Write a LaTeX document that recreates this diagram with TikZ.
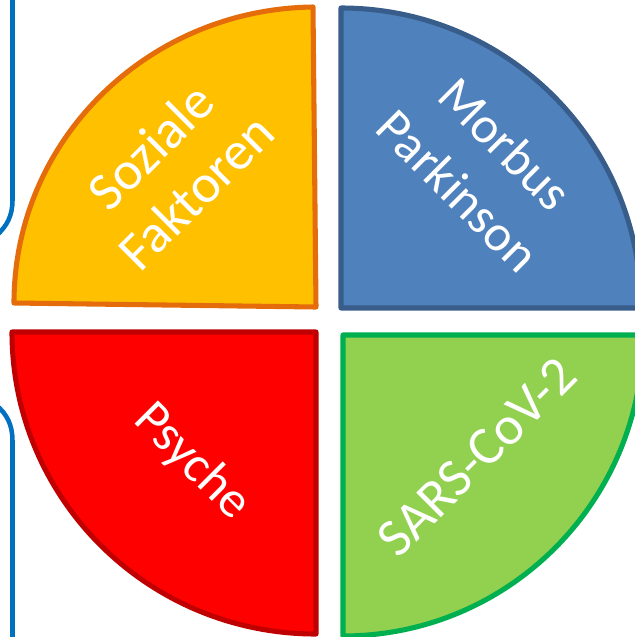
\documentclass[tikz,border=0pt]{standalone}
\usepackage{fontspec}
\setmainfont{Carlito}
\definecolor{oStroke}{HTML}{E46C0A}
\definecolor{oFill}{HTML}{FFC000}
\definecolor{bStroke}{HTML}{385D8A}
\definecolor{bFill}{HTML}{4F81BD}
\definecolor{rStroke}{HTML}{C00000}
\definecolor{rFill}{HTML}{FF0000}
\definecolor{gStroke}{HTML}{00B050}
\definecolor{gFill}{HTML}{92D050}
\definecolor{frameBlue}{HTML}{0070C0}
\tikzset{
  sector/.style={line width=3.8pt,line join=round},
  frameline/.style={draw=frameBlue,line width=3.4pt},
  label/.style={text=white,font=\fontsize{40.7}{48}\selectfont,align=center,inner sep=0pt},
  labelsmall/.style={label,font=\fontsize{38.5}{50}\selectfont}
}
\begin{document}
\begin{tikzpicture}[x=0.75pt,y=-0.75pt]
\useasboundingbox (0,0) rectangle (635,637);
\clip (0,0) rectangle (635,637);
% blue frame pieces
\draw[frameline] (12.5,-5) -- (12.5,200) .. controls (12.5,216) and (7,226) .. (-4,236);
\draw[frameline] (-4,405) .. controls (7,414) and (12.5,425) .. (12.5,441) -- (12.5,642);
% sectors
\draw[sector,draw=oStroke,fill=oFill] (14,303) .. controls (14,140) and (148,9) .. (313,7) -- (316,307) -- cycle;
\draw[sector,draw=bStroke,fill=bFill] (341,8) .. controls (507,8) and (641,142) .. (641,308) -- (341,308) -- cycle;
\draw[sector,draw=rStroke,fill=rFill] (12,332) .. controls (12,499) and (148,634) .. (316,634) -- (316,332) -- cycle;
\draw[sector,draw=gStroke,fill=gFill] (343,335) -- (643,335) .. controls (643,501) and (509,636) .. (343,636) -- cycle;
% labels
\node[label,rotate=45] (soziale) at (173,169) {Soziale\\Faktoren};
\node[labelsmall,rotate=-45] (morbus) at (482,167) {Morbus\\Parkinson};
\node[labelsmall,rotate=-45] (psyche) at (192,462) {Psyche};
\node[label,rotate=45] (sars) at (477,457) {SARS-CoV-2};
\end{tikzpicture}
\end{document}
